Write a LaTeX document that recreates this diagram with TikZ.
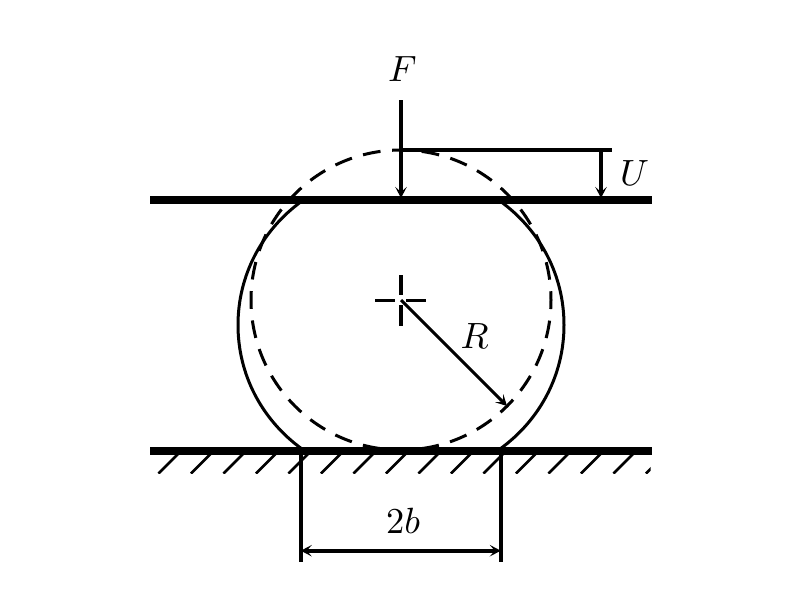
\documentclass[tikz,border=0pt]{standalone}
\usetikzlibrary{arrows.meta}
\tikzset{
  plate/.style={line width=7.8pt},
  thin line/.style={line width=3pt},
  dim line/.style={line width=3.6pt},
  tip/.style={-{Stealth[length=11pt,width=11.5pt,inset=5pt]}},
  both tips/.style={{Stealth[length=11pt,width=11.5pt,inset=5pt]}-{Stealth[length=11pt,width=11.5pt,inset=5pt]}},
  dashcircle/.style={line width=3pt,dash pattern=on 17.8pt off 11.65pt,dash phase=8.9pt},
  hatch/.style={line width=2.8pt},
  lab/.style={inner sep=0pt,scale=3.65}
}
\begin{document}
\begin{tikzpicture}[x=1pt,y=-1pt]
\useasboundingbox (0,0) rectangle (801,600);
\fill[white] (0,0) rectangle (801,600);
% hatching
\begin{scope}
\clip (150,455) rectangle (650.5,473);
\foreach \i in {0,...,15} \draw[hatch] ({158.5+32.5*\i},473.5) -- ++(21,-21);
\end{scope}
% coordinates
\coordinate (c) at (401,300);
\coordinate (fs) at (401,100);
\coordinate (fe) at (401,198);
\coordinate (us) at (401,150);
\coordinate (ucorner) at (612,150);
\coordinate (ua) at (601,150);
\coordinate (ue) at (601,198);
\coordinate (rim) at (507,406);
\coordinate (dl) at (300.8,450);
\coordinate (dlb) at (300.8,561.5);
\coordinate (dr) at (500.8,450);
\coordinate (drb) at (500.8,561.5);
\coordinate (al) at (300.8,550.7);
\coordinate (ar) at (500.8,550.7);
% dashed undeformed circle
\draw[dashcircle] (401,150) arc[start angle=90,end angle=450,radius=150pt];
% deformed ball
\draw[thin line] (302,201) .. controls (262,230) and (238,275) .. (238,325)
  .. controls (238,375) and (262,420) .. (302,449);
\draw[thin line] (500,201) .. controls (540,230) and (564,275) .. (564,325)
  .. controls (564,375) and (540,420) .. (500,449);
% plates
\draw[plate] (150,200) -- (652,200);
\draw[plate] (150,451) -- (652,451);
% centre cross
\draw[line width=3.8pt] (401,275) -- (401,295);
\draw[line width=3.8pt] (401,305) -- (401,326);
\draw[line width=3pt] (375,300) -- (395,300);
\draw[line width=3pt] (406,300) -- (426,300);
% connectors
\draw[thin line,tip] (c) -- (rim);
\draw[dim line,tip] (fs) -- (fe);
\draw[dim line] (us) -- (ucorner);
\draw[dim line,tip] (ua) -- (ue);
\draw[dim line] (dl) -- (dlb);
\draw[dim line] (dr) -- (drb);
\draw[dim line,both tips] (al) -- (ar);
% labels
\node[lab] (F) at (402.5,69.5) {$F$};
\node[lab] (U) at (634.5,173.5) {$U$};
\node[lab] (R) at (474.5,336) {$R$};
\node[lab] (b) at (403,521) {$2b$};
\end{tikzpicture}
\end{document}
